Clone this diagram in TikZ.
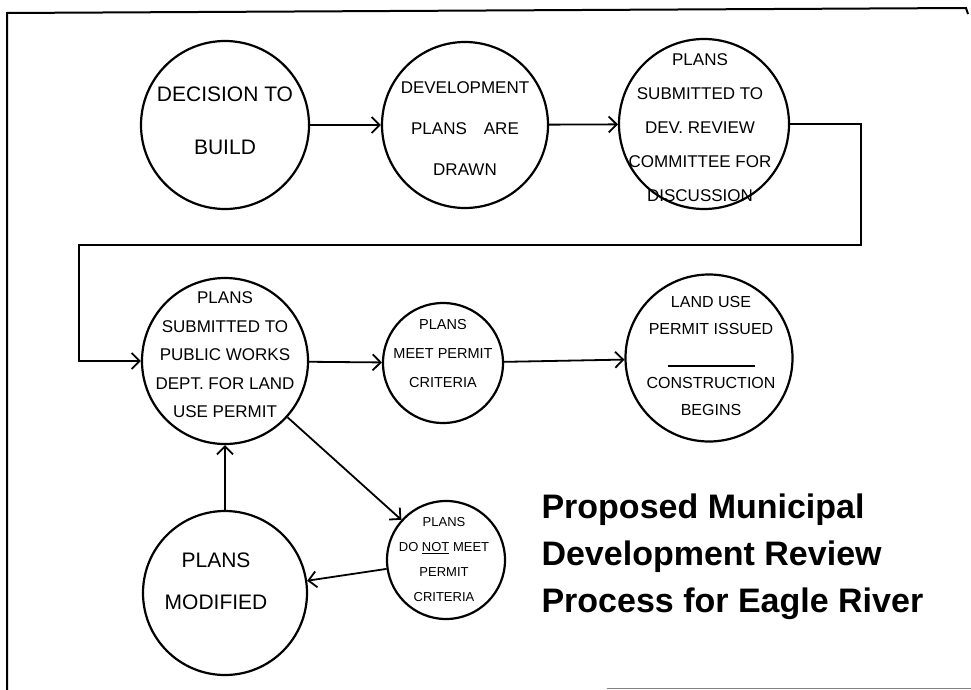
\documentclass[tikz,border=0pt]{standalone}
\usepackage{fontspec}
\setmainfont{Liberation Sans}
\usetikzlibrary{arrows.meta,positioning,calc}

\begin{document}
\begin{tikzpicture}[x=1pt,y=-1pt,>={Straight Barb[length=8pt,width=16pt]},
  stage/.style={circle,draw,line width=2.2pt,inner sep=0pt},
  hand/.style 2 args={align=center,inner sep=0pt,font=\fontsize{#1}{#2}\selectfont},
  flow/.style={->,line width=1.8pt}]
\useasboundingbox (0,0) rectangle (971,690);
% frame
\draw[line width=2pt](7,690)--(7,13)--(966,8)--(968,14);
\draw[gray,line width=1pt](607,688)--(971,688);
% first row
\node[stage,minimum size=168pt](decide)at(225,125){};
\node[hand={21}{53}](decidetext)at(225,121){DECISION TO\\BUILD\hspace{36pt}};
\node[stage,minimum size=166pt](drawn)at(465,125){};
\node[hand={17}{41}](drawntext)at(465,129){DEVELOPMENT\\PLANS\quad ARE\\DRAWN\hspace{28pt}};
\node[stage,minimum size=170pt](review)at(704,124){};
\node[hand={17}{34}](reviewtext)at(700,128){PLANS\hspace{16pt}\\SUBMITTED TO\\DEV. REVIEW\\COMMITTEE FOR\\DISCUSSION};
% second row
\node[stage,minimum size=166pt](works)at(225,361){};
\node[hand={17}{28.5}](workstext)at(225,355){PLANS\hspace{20pt}\\SUBMITTED TO\\PUBLIC WORKS\\DEPT. FOR LAND\\USE PERMIT};
\node[stage,minimum size=120pt](meet)at(443,363){};
\node[hand={14.5}{29}](meettext)at(443,354){PLANS\hspace{12pt}\\MEET PERMIT\\CRITERIA};
\node[stage,minimum size=167pt](issued)at(709,358){};
\node[hand={16}{27}](issuedtext)at(711,356){LAND USE\\PERMIT ISSUED\\\rule[-5pt]{87pt}{1.5pt}\\CONSTRUCTION\\BEGINS};
% third row
\node[stage,minimum size=118pt](notmeet)at(446,560){};
\node[hand={13}{25}](notmeettext)at(444,560){PLANS\hspace{6pt}\\DO \underline{NOT} MEET\\PERMIT\\CRITERIA};
\node[stage,minimum size=164pt](modified)at(225,593){};
\node[hand={21}{42}](modifiedtext)at(216,581){PLANS\hspace{20pt}\\MODIFIED};
\node[anchor=west,align=left,font=\fontsize{34}{47}\selectfont\bfseries](title)at(538,557){Proposed Municipal\\Development Review\\Process for Eagle River};
% connectors
\coordinate(turnA)at(861,245);
\coordinate(turnB)at(79,245);
\draw[flow](decide)--(drawn);
\draw[flow](drawn)--(review);
\draw[flow](review.east)-|(turnA)--(turnB)|-(works.west);
\draw[flow](works)--(meet);
\draw[flow](meet)--(issued);
\draw[flow](works)--(notmeet);
\draw[flow](notmeet)--(modified);
\draw[flow](modified)--(works);
\end{tikzpicture}
\end{document}
